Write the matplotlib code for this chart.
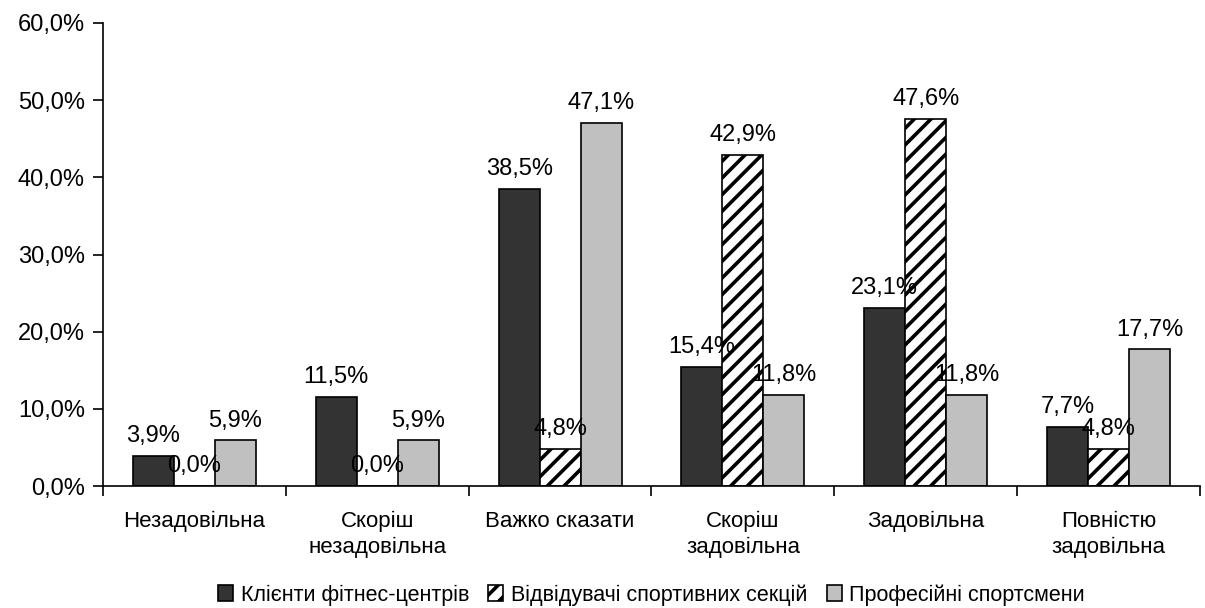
import numpy as np
import matplotlib.pyplot as plt
from matplotlib.ticker import MultipleLocator, FixedLocator, FuncFormatter

plt.rcParams['font.family'] = ['Liberation Sans', 'DejaVu Sans']
plt.rcParams['hatch.linewidth'] = 2.6

# -------------------------------
# Data
# -------------------------------
categories = ['Незадовільна', 'Скоріш\nнезадовільна', 'Важко сказати',
              'Скоріш\nзадовільна', 'Задовільна', 'Повністю\nзадовільна']
series_names = ['Клієнти фітнес-центрів', 'Відвідувачі спортивних секцій',
                'Професійні спортсмени']
fitness = [3.9, 11.5, 38.5, 15.4, 23.1, 7.7]
sections = [0.0, 0.0, 4.8, 42.9, 47.6, 4.8]
pros = [5.9, 5.9, 47.1, 11.8, 11.8, 17.7]
series_values = [fitness, sections, pros]

colors = ['#333333', 'white', '#c0c0c0']
hatches = [None, '//', None]

BAR_W = 0.224

# -------------------------------
# Plot
# -------------------------------
fig = plt.figure(figsize=(12.05, 6.08), dpi=100)
ax = fig.add_axes([103 / 1205, 1 - 486 / 608, 1097 / 1205, 463 / 608])

x = np.arange(len(categories))
for k, vals in enumerate(series_values):
    pos = x + (k - 1) * BAR_W
    ax.bar(pos, vals, BAR_W, color=colors[k], edgecolor='black',
           linewidth=1.2, hatch=hatches[k], label=series_names[k],
           zorder=2)
    # value labels on top of everything
    for xi, v in zip(pos, vals):
        ax.annotate(f'{v:.1f}%'.replace('.', ','), (xi, v),
                    xytext=(0, 10), textcoords='offset points',
                    ha='center', va='baseline', fontsize=17,
                    zorder=10)

ax.set_xlim(-0.5, len(categories) - 0.5)
ax.set_ylim(0, 60)
ax.yaxis.set_major_locator(MultipleLocator(10))
ax.yaxis.set_major_formatter(FuncFormatter(lambda v, p: f'{v:.1f}%'.replace('.', ',')))

ax.set_xticks(x)
ax.set_xticklabels(categories, fontsize=16, linespacing=1.3)
ax.xaxis.set_minor_locator(FixedLocator(np.arange(-0.5, len(categories), 1)))
ax.tick_params(axis='x', which='major', length=0, pad=18)
ax.tick_params(axis='x', which='minor', length=7, width=1.2)
ax.tick_params(axis='y', length=7, width=1.2, labelsize=17, pad=6)

for s in ['top', 'right']:
    ax.spines[s].set_visible(False)
for s in ['left', 'bottom']:
    ax.spines[s].set_linewidth(1.2)

ax.legend(loc='center', bbox_to_anchor=(0.5, -0.235), ncol=3,
          frameon=False, fontsize=15.5, handlelength=0.7, handleheight=0.7,
          handletextpad=0.35, columnspacing=0.9,
          bbox_transform=ax.transAxes)

plt.savefig('out.png', dpi=100)
